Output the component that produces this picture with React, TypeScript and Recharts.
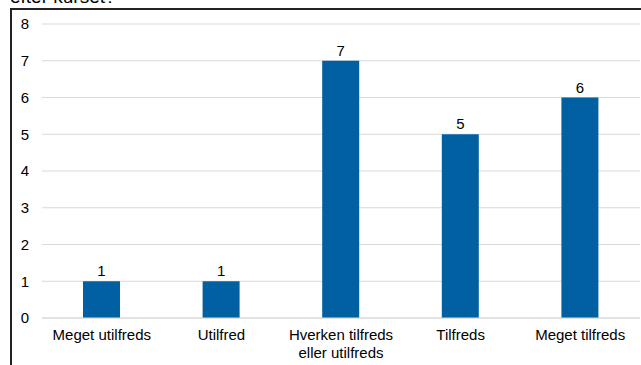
import React from "react";
import { ComposedChart, Bar, XAxis, YAxis, CartesianGrid, LabelList } from "recharts";

const categories = ["Meget utilfreds", "Utilfred", "Hverken tilfreds\neller utilfreds", "Tilfreds", "Meget tilfreds"];
const values = [1, 1, 7, 5, 6];
const yTicks = [0, 1, 2, 3, 4, 5, 6, 7, 8];

const data = categories.map((c, i) => ({ name: c, value: values[i] }));

const FONT = "'Liberation Sans', Arial, sans-serif";

const XTick = (props: any) => {
  const { x, y, payload } = props;
  const lines = String(payload.value).split("\n");
  return (
    <text x={x} y={y} textAnchor="middle" fill="#000" fontSize={15} fontFamily={FONT}>
      {lines.map((l: string, i: number) => (
        <tspan key={i} x={x} dy={i === 0 ? 22 : 18}>{l}</tspan>
      ))}
    </text>
  );
};

export default function App() {
  return (
    <div style={{ position: "fixed", left: 0, top: 0, width: 641, height: 365, background: "#fff", overflow: "hidden" }}>
      <div style={{ position: "absolute", left: 10, top: -3, fontFamily: FONT, fontSize: 19, lineHeight: "0px", color: "#000" }}>
        efter kurset?
      </div>
      <div style={{ position: "absolute", left: 10, top: 8, width: 640, height: 400, borderTop: "2px solid #222", borderLeft: "2px solid #222", boxSizing: "border-box" }} />
      <div style={{ position: "absolute", left: 0, top: 0 }}>
        <ComposedChart width={641} height={365} data={data} margin={{ top: 24, right: 1, bottom: 0, left: 0 }}>
          <CartesianGrid vertical={false} stroke="#d9d9d9" />
          <XAxis dataKey="name" height={47} interval={0} tickLine={false} axisLine={{ stroke: "#d9d9d9" }} tick={<XTick />} tickSize={0} tickMargin={0} />
          <YAxis width={42} domain={[0, 8]} ticks={yTicks} axisLine={false} tickLine={false} tickSize={0} tickMargin={13}
            tick={{ fill: "#000", fontSize: 15, fontFamily: FONT }} />
          <Bar dataKey="value" fill="#0060A2" barSize={37} isAnimationActive={false}>
            <LabelList dataKey="value" position="top" offset={5} fill="#000" fontSize={15} fontFamily={FONT} />
          </Bar>
        </ComposedChart>
      </div>
    </div>
  );
}
